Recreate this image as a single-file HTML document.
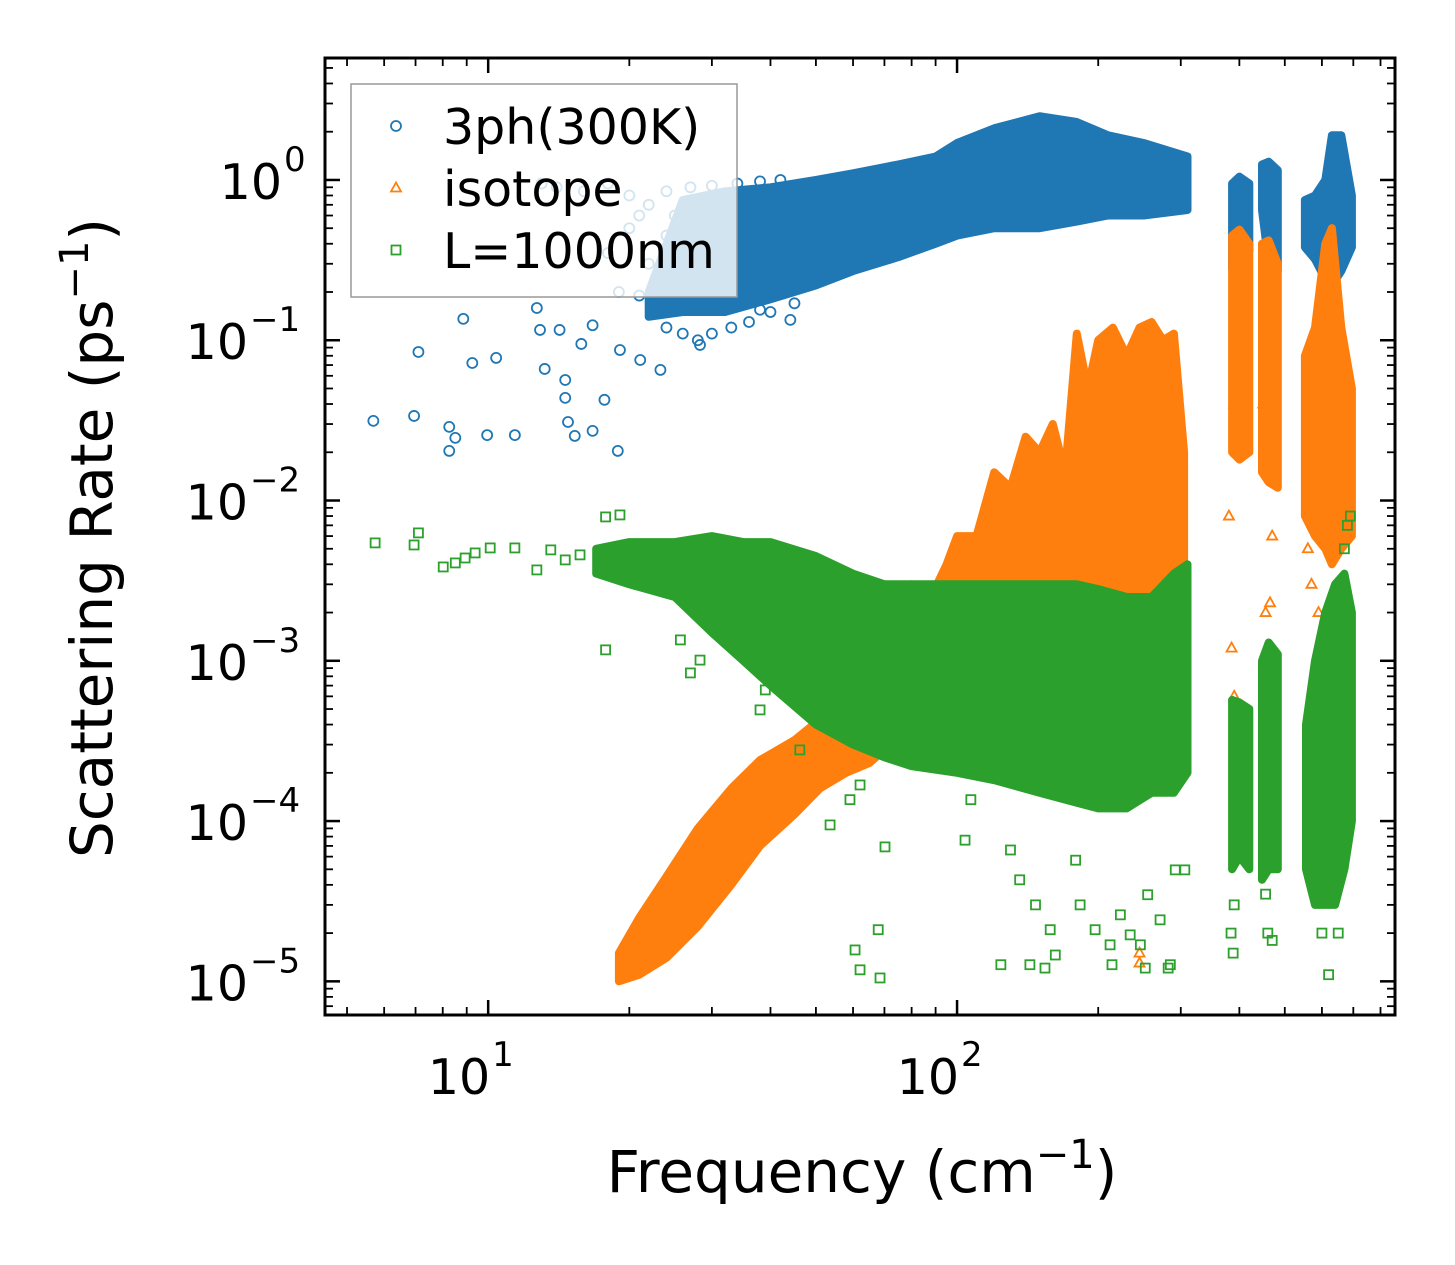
<!DOCTYPE html>
<html><head><meta charset="utf-8"><style>
html,body{margin:0;padding:0;background:#fff;}
svg{display:block;font-family:"DejaVu Sans","Liberation Sans",sans-serif;}
</style></head><body>
<svg id="chart" width="1455" height="1265" viewBox="0 0 1455 1265" xmlns="http://www.w3.org/2000/svg">
<rect width="1455" height="1265" fill="#fff"/>
<g id="marks"></g>
<g id="axes"></g>
<text x="862" y="1192" font-size="58" text-anchor="middle">Frequency (cm<tspan dy="-24" font-size="40">−1</tspan><tspan dy="24">)</tspan></text>
<text transform="translate(112,538) rotate(-90)" font-size="58" text-anchor="middle">Scattering Rate (ps<tspan dy="-24" font-size="40">−1</tspan><tspan dy="24">)</tspan></text>
<g id="legend"></g>
</svg>
<script>
// ---- data ----
const xTickLabels = ["1", "2"];
const yTickExps = ["0", "−1", "−2", "−3", "−4", "−5"];
// dense clouds (envelopes)
const blueBandFreq = [22, 26, 32, 40, 50, 60, 75, 90, 100, 120, 150, 180, 210, 250, 310];
const blueBandHi   = [0.2, 0.75, 0.85, 0.9, 1.0, 1.1, 1.25, 1.4, 1.7, 2.1, 2.5, 2.3, 1.9, 1.7, 1.4];
const blueBandLo   = [0.14, 0.15, 0.15, 0.18, 0.22, 0.27, 0.33, 0.4, 0.45, 0.5, 0.5, 0.55, 0.6, 0.6, 0.65];
const blueAFreq = [386, 400, 420], blueAHi = [0.95, 1.05, 0.95], blueALo = [0.28, 0.32, 0.36];
const blueBFreq = [447, 462, 483], blueBHi = [1.25, 1.3, 1.15], blueBLo = [0.65, 0.3, 0.27];
const blueCFreq = [552, 580, 610, 630, 660, 695], blueCHi = [0.75, 0.8, 1.0, 1.9, 1.9, 0.8], blueCLo = [0.38, 0.32, 0.24, 0.22, 0.27, 0.38];
const orangeBandFreq = [19, 21, 24, 28, 33, 38, 45, 51, 58, 65, 72, 80, 88, 95, 100, 110, 120, 130, 140, 150, 160, 170, 180, 190, 200, 215, 230, 245, 260, 275, 290, 305];
const orangeBandHi = [1.5e-5, 2.5e-5, 4.5e-5, 9e-5, 1.6e-4, 2.4e-4, 3.2e-4, 4.3e-4, 5.5e-4, 7e-4, 1.5e-3, 3e-3, 2.5e-3, 4e-3, 6e-3, 6e-3, 1.5e-2, 1.2e-2, 2.5e-2, 2.0e-2, 3e-2, 1.5e-2, 0.11, 0.05, 0.1, 0.12, 0.08, 0.12, 0.13, 0.1, 0.11, 0.02];
const orangeBandLo = [1.0e-5, 1.1e-5, 1.4e-5, 2.2e-5, 4e-5, 7e-5, 1.1e-4, 1.6e-4, 2e-4, 2.3e-4, 3e-4, 4e-4, 5e-4, 6e-4, 7e-4, 8e-4, 8e-4, 8e-4, 8e-4, 8e-4, 8e-4, 8e-4, 8e-4, 8e-4, 8e-4, 8e-4, 8e-4, 6e-4, 5e-4, 4e-4, 3e-4, 3e-4];
const orangeAFreq = [386, 400, 420], orangeAHi = [0.45, 0.49, 0.4], orangeALo = [0.02, 0.018, 0.02];
const orangeBFreq = [447, 462, 483], orangeBHi = [0.4, 0.42, 0.3], orangeBLo = [0.015, 0.013, 0.012];
const orangeCFreq = [552, 580, 610, 630, 660, 695], orangeCHi = [0.08, 0.12, 0.4, 0.5, 0.12, 0.05], orangeCLo = [0.008, 0.006, 0.005, 0.004, 0.005, 0.006];
const greenBandFreq = [17, 20, 25, 30, 35, 40, 50, 60, 70, 80, 100, 120, 150, 180, 200, 230, 260, 290, 310];
const greenBandHi = [5e-3, 5.5e-3, 5.5e-3, 6e-3, 5.5e-3, 5.5e-3, 4.5e-3, 3.5e-3, 3e-3, 3e-3, 3e-3, 3e-3, 3e-3, 3e-3, 2.8e-3, 2.5e-3, 2.5e-3, 3.5e-3, 4e-3];
const greenBandLo = [3.5e-3, 3e-3, 2.5e-3, 1.5e-3, 1e-3, 7e-4, 4e-4, 3e-4, 2.5e-4, 2.2e-4, 2e-4, 1.8e-4, 1.5e-4, 1.3e-4, 1.2e-4, 1.2e-4, 1.5e-4, 1.5e-4, 2e-4];
const greenAFreq = [386, 400, 420], greenAHi = [5.7e-4, 5.5e-4, 5e-4], greenALo = [5e-5, 6e-5, 5e-5];
const greenBFreq = [447, 462, 483], greenBHi = [1.0e-3, 1.3e-3, 1.1e-3], greenBLo = [4.3e-5, 5e-5, 5e-5];
const greenCFreq = [555, 580, 610, 640, 670, 695], greenCHi = [4e-4, 1e-3, 2e-3, 3e-3, 3.5e-3, 2e-3], greenCLo = [5e-5, 3e-5, 3e-5, 3e-5, 5e-5, 1e-4];
// individual scattered points
const blueFreq = [5.69, 6.95, 7.10, 8.26, 8.51, 8.26, 8.85, 9.25, 9.95, 10.4, 11.4, 12.7, 12.9, 13.2, 14.2, 14.6, 14.6, 14.8, 15.3, 15.8, 16.7, 16.7, 17.7, 18.9, 19.1, 21.1, 23.3, 28.3, 38.0, 44.1, 14, 16, 18, 20, 22, 20, 22, 24, 19, 21, 23, 25, 27, 13, 18, 21, 24, 26, 28, 30, 33, 36, 40, 45, 24, 27, 30, 34, 38, 42];
const blueRate = [0.0314, 0.0337, 0.0845, 0.0288, 0.0246, 0.0204, 0.136, 0.0721, 0.0256, 0.0776, 0.0256, 0.159, 0.116, 0.0662, 0.116, 0.0565, 0.0437, 0.0309, 0.0253, 0.0948, 0.0272, 0.124, 0.0425, 0.0204, 0.0869, 0.0753, 0.0653, 0.0935, 0.155, 0.134, 0.9, 0.85, 0.95, 0.8, 0.7, 0.5, 0.3, 0.45, 0.2, 0.19, 0.25, 0.6, 0.7, 0.95, 0.35, 0.6, 0.12, 0.11, 0.1, 0.11, 0.12, 0.13, 0.15, 0.17, 0.85, 0.9, 0.92, 0.95, 0.98, 1.0];
const orangeFreq = [390, 395, 380, 385, 390, 450, 460, 470, 455, 465, 560, 570, 600, 590, 245, 245];
const orangeRate = [0.04, 0.02, 0.008, 0.0012, 6e-4, 0.04, 0.025, 0.006, 0.002, 0.0023, 0.005, 0.003, 0.01, 0.002, 1.3e-5, 1.5e-5];
const greenFreq = [5.74, 6.95, 7.10, 8.02, 8.51, 8.93, 9.38, 10.1, 11.4, 12.7, 13.6, 14.6, 15.7, 17.8, 19.1, 17.8, 27.0, 25.7, 28.3, 38.0, 39.0, 46.2, 53.6, 59.1, 62.1, 70.2, 60.6, 62.1, 67.9, 68.5, 104, 107, 130, 136, 147, 162, 158, 179, 183, 197, 212, 223, 234, 255, 271, 285, 292, 306, 143, 124, 214, 154, 246, 252, 282, 384, 390, 388, 460, 470, 455, 620, 600, 650, 660, 670, 680, 690];
const greenRate = [5.44e-3, 5.28e-3, 6.28e-3, 3.85e-3, 4.08e-3, 4.38e-3, 4.71e-3, 5.06e-3, 5.06e-3, 3.69e-3, 4.92e-3, 4.26e-3, 4.58e-3, 7.9e-3, 8.13e-3, 1.17e-3, 8.4e-4, 1.35e-3, 1.01e-3, 4.94e-4, 6.58e-4, 2.78e-4, 9.46e-5, 1.36e-4, 1.68e-4, 6.9e-5, 1.57e-5, 1.18e-5, 2.1e-5, 1.05e-5, 7.6e-5, 1.36e-4, 6.6e-5, 4.3e-5, 3.0e-5, 1.46e-5, 2.1e-5, 5.7e-5, 3.0e-5, 2.1e-5, 1.69e-5, 2.6e-5, 1.95e-5, 3.47e-5, 2.42e-5, 1.27e-5, 4.96e-5, 4.96e-5, 1.27e-5, 1.27e-5, 1.27e-5, 1.21e-5, 1.69e-5, 1.21e-5, 1.21e-5, 2e-5, 3e-5, 1.5e-5, 2e-5, 1.8e-5, 3.5e-5, 1.1e-5, 2e-5, 2e-5, 3e-3, 5e-3, 7e-3, 8e-3];

// ---- scales ----
const X0 = 325, X1 = 1395, Y0 = 58, Y1 = 1015;
const xLogMin = 0.652, xLogMax = 2.934, yLogMin = -5.21, yLogMax = 0.761;
function xs(f){ return X0 + (Math.log10(f) - xLogMin) / (xLogMax - xLogMin) * (X1 - X0); }
function ys(v){ return Y1 - (Math.log10(v) - yLogMin) / (yLogMax - yLogMin) * (Y1 - Y0); }

const NS = "http://www.w3.org/2000/svg";
const marks = document.getElementById('marks');
const axes = document.getElementById('axes');
const C = {blue:"#1f77b4", orange:"#ff7f0e", green:"#2ca02c"};

function band(fr, hi, lo, col, name){
  let pts = [];
  for (let i = 0; i < fr.length; i++) pts.push(xs(fr[i]).toFixed(1) + "," + ys(hi[i]).toFixed(1));
  for (let i = fr.length - 1; i >= 0; i--) pts.push(xs(fr[i]).toFixed(1) + "," + ys(lo[i]).toFixed(1));
  const p = document.createElementNS(NS, 'polygon');
  p.setAttribute('points', pts.join(' '));
  p.setAttribute('fill', col); p.setAttribute('stroke', col); p.setAttribute('stroke-width', '8'); p.setAttribute('stroke-linejoin', 'round');
  
  
  marks.appendChild(p);
}
function marker(kind, cx, cy, col, parent){
  let el;
  if (kind === 'circle'){ el = document.createElementNS(NS, 'circle'); el.setAttribute('cx', cx); el.setAttribute('cy', cy); el.setAttribute('r', 5); }
  else if (kind === 'tri'){ el = document.createElementNS(NS, 'polygon'); el.setAttribute('points', `${cx},${cy-5.5} ${cx+5},${cy+3.5} ${cx-5},${cy+3.5}`); }
  else { el = document.createElementNS(NS, 'rect'); el.setAttribute('x', cx-4.5); el.setAttribute('y', cy-4.5); el.setAttribute('width', 9); el.setAttribute('height', 9); }
  el.setAttribute('fill', 'none'); el.setAttribute('stroke', col); el.setAttribute('stroke-width', '1.8');
  (parent || marks).appendChild(el);
  return el;
}
function points(fr, rt, kind, col, name){
  for (let i = 0; i < fr.length; i++){
    const el = marker(kind, xs(fr[i]), ys(rt[i]), col);
    
    
  }
}
band(blueBandFreq, blueBandHi, blueBandLo, C.blue, 'blue-cloud-main');
band(blueAFreq, blueAHi, blueALo, C.blue, 'blue-cloud-a');
band(blueBFreq, blueBHi, blueBLo, C.blue, 'blue-cloud-b');
band(blueCFreq, blueCHi, blueCLo, C.blue, 'blue-cloud-c');
points(blueFreq, blueRate, 'circle', C.blue, 'blue-point');
band(orangeBandFreq, orangeBandHi, orangeBandLo, C.orange, 'orange-cloud-main');
band(orangeAFreq, orangeAHi, orangeALo, C.orange, 'orange-cloud-a');
band(orangeBFreq, orangeBHi, orangeBLo, C.orange, 'orange-cloud-b');
band(orangeCFreq, orangeCHi, orangeCLo, C.orange, 'orange-cloud-c');
points(orangeFreq, orangeRate, 'tri', C.orange, 'orange-point');
band(greenBandFreq, greenBandHi, greenBandLo, C.green, 'green-cloud-main');
band(greenAFreq, greenAHi, greenALo, C.green, 'green-cloud-a');
band(greenBFreq, greenBHi, greenBLo, C.green, 'green-cloud-b');
band(greenCFreq, greenCHi, greenCLo, C.green, 'green-cloud-c');
points(greenFreq, greenRate, 'square', C.green, 'green-point');

// ---- axes ----
function line(x1, y1, x2, y2, w, name){
  const l = document.createElementNS(NS, 'line');
  l.setAttribute('x1', x1); l.setAttribute('y1', y1); l.setAttribute('x2', x2); l.setAttribute('y2', y2);
  l.setAttribute('stroke', '#000'); l.setAttribute('stroke-width', w);
  
  
  axes.appendChild(l);
}
for (let d = 0; d <= 2; d++){
  for (let m = 1; m <= 9; m++){
    const f = m * Math.pow(10, d);
    const x = xs(f);
    if (x < X0 || x > X1) continue;
    const L = m === 1 ? 15 : 8, w = m === 1 ? 2.5 : 1.8;
    line(x, Y1, x, Y1 - L, w, 'x-tick');
    line(x, Y0, x, Y0 + L, w, 'x-tick-top');
  }
}
xTickLabels.forEach(e => {
  const x = xs(Math.pow(10, +e));
  const t = document.createElementNS(NS, 'text');
  t.setAttribute('x', x + 2); t.setAttribute('y', 1094); t.setAttribute('font-size', '49'); t.setAttribute('text-anchor', 'end');
  t.textContent = '10';
  
  
  axes.appendChild(t);
  const s = document.createElementNS(NS, 'text');
  s.setAttribute('x', x + 4); s.setAttribute('y', 1066); s.setAttribute('font-size', '34');
  s.textContent = e;
  
  
  axes.appendChild(s);
});
for (let d = -6; d <= 0; d++){
  for (let m = 1; m <= 9; m++){
    const v = m * Math.pow(10, d);
    const y = ys(v);
    if (y < Y0 || y > Y1) continue;
    const L = m === 1 ? 15 : 8, w = m === 1 ? 2.5 : 1.8;
    line(X0, y, X0 + L, y, w, 'y-tick');
    line(X1, y, X1 - L, y, w, 'y-tick-right');
  }
}
yTickExps.forEach((e, i) => {
  const y = ys(Math.pow(10, -i));
  const t = document.createElementNS(NS, 'text');
  const xr = e === "0" ? 282 : 248;
  t.setAttribute('x', xr); t.setAttribute('y', y + 19); t.setAttribute('font-size', '49'); t.setAttribute('text-anchor', 'end');
  t.textContent = '10';
  
  
  axes.appendChild(t);
  const s = document.createElementNS(NS, 'text');
  s.setAttribute('x', xr + 2); s.setAttribute('y', y - 9); s.setAttribute('font-size', '34');
  s.textContent = e;
  
  
  axes.appendChild(s);
});
const frame = document.createElementNS(NS, 'rect');
frame.setAttribute('x', X0); frame.setAttribute('y', Y0); frame.setAttribute('width', X1 - X0); frame.setAttribute('height', Y1 - Y0);
frame.setAttribute('fill', 'none'); frame.setAttribute('stroke', '#000'); frame.setAttribute('stroke-width', '3');


axes.appendChild(frame);

// ---- legend ----
const lg = document.getElementById('legend');
const box = document.createElementNS(NS, 'rect');
box.setAttribute('x', 351); box.setAttribute('y', 84); box.setAttribute('width', 386); box.setAttribute('height', 213);
box.setAttribute('fill', 'rgba(255,255,255,0.8)'); box.setAttribute('stroke', '#999'); box.setAttribute('stroke-width', '1.5');


lg.appendChild(box);
const legendLabels = ["3ph(300K)", "isotope", "L=1000nm"];
const legendKinds = ['circle', 'tri', 'square'];
const legendCols = [C.blue, C.orange, C.green];
legendLabels.forEach((lab, i) => {
  const cy = 126 + i * 62;
  const m = marker(legendKinds[i], 396, cy, legendCols[i], lg);
  
  
  const t = document.createElementNS(NS, 'text');
  t.setAttribute('x', 443); t.setAttribute('y', cy + 18); t.setAttribute('font-size', '49');
  t.textContent = lab;
  
  
  lg.appendChild(t);
});
</script>
</body></html>
